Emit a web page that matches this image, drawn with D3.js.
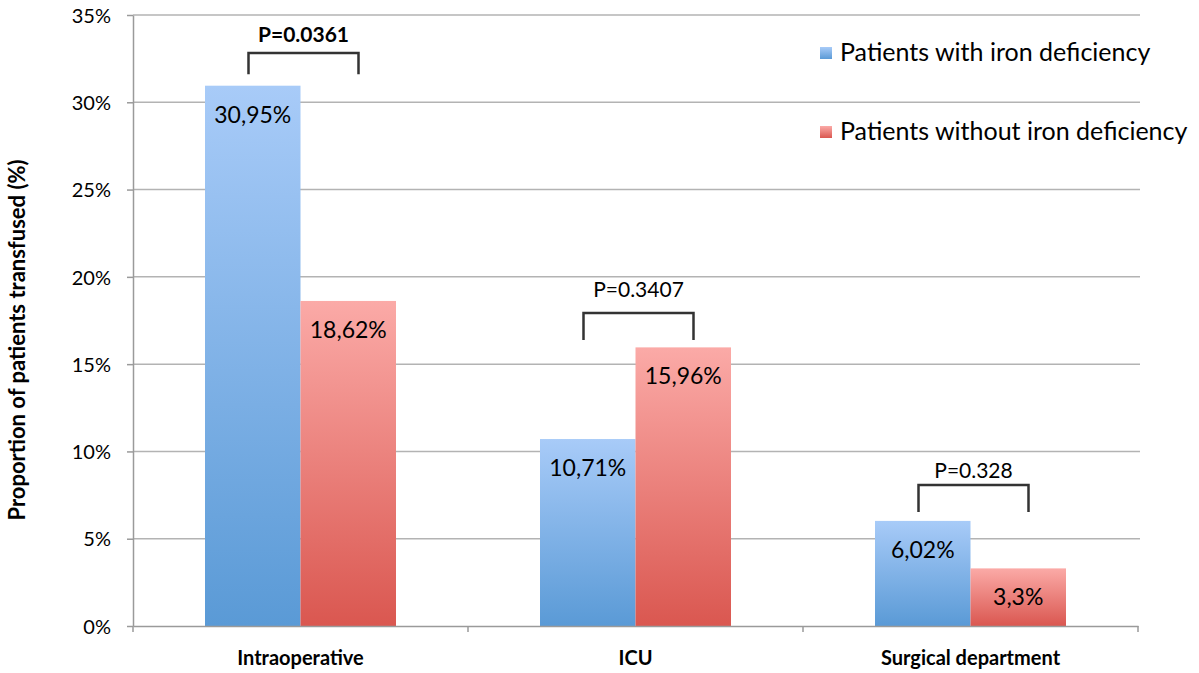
<html>
<head>
<meta charset="utf-8">
<script src="https://cdn.jsdelivr.net/npm/d3@7"></script>
<style>
    body { margin: 0; background: #fff; }
    text { font-family: Lato, "Open Sans", sans-serif; fill: #000; }
    .grid line { stroke: #b3b3b3; stroke-width: 1.5px; }
    .axis path, .axis line { stroke: #9a9a9a; stroke-width: 1.5px; }
</style>
</head>
<body>
<script>

    // data
    var categories = ["Intraoperative", "ICU", "Surgical department"];
    var series = ["Patients with iron deficiency", "Patients without iron deficiency"];
    var withIron = [30.95, 10.71, 6.02];
    var withoutIron = [18.62, 15.96, 3.3];
    var valueLabels = [["30,95%", "18,62%"], ["10,71%", "15,96%"], ["6,02%", "3,3%"]];
    var pValues = ["P=0.0361", "P=0.3407", "P=0.328"];
    var pBold = [true, false, false];
    var pLabelAt = [33.45, 18.84, 8.48];
    var bracketTop = [32.82, 17.93, 8.08];
    var bracketLeg = [31.6, 16.38, 6.53];
    var yTicks = [0, 5, 10, 15, 20, 25, 30, 35];

    var width = 1199, height = 673;
    var margin = {left: 133, right: 61, top: 15, bottom: 47};

    var svg = d3.select("body").append("svg")
        .attr("width", width)
        .attr("height", height);

    var defs = svg.append("defs");
    var grads = [["blueGrad", "#a8cbf8", "#5a9ad6"], ["redGrad", "#fbaaa7", "#da5750"]];
    grads.forEach(function (g) {
        var lg = defs.append("linearGradient").attr("id", g[0])
            .attr("x1", 0).attr("y1", 0).attr("x2", 0).attr("y2", 1);
        lg.append("stop").attr("offset", "0%").attr("stop-color", g[1]);
        lg.append("stop").attr("offset", "100%").attr("stop-color", g[2]);
    });

    var x = d3.scaleBand()
        .domain(categories)
        .range([margin.left, width - margin.right]);

    var inner = d3.scaleBand()
        .domain([0, 1])
        .range([0, x.bandwidth()])
        .paddingOuter(0.754);

    var y = d3.scaleLinear()
        .domain([0, 35])
        .range([height - margin.bottom, margin.top]);

    // gridlines
    svg.append("g").attr("class", "grid")
        .selectAll("line")
        .data(yTicks.slice(1))
        .enter().append("line")
        .attr("x1", margin.left).attr("x2", width - margin.right + 2)
        .attr("y1", function (d) { return y(d); })
        .attr("y2", function (d) { return y(d); });

    // y axis
    var yAxis = svg.append("g").attr("class", "axis")
        .attr("transform", "translate(" + margin.left + ",0)")
        .call(d3.axisLeft(y).tickValues(yTicks).tickSize(6).tickSizeOuter(0)
            .tickFormat(function (d) { return d + "%"; }));
    yAxis.selectAll("text").style("font-size", "20px").attr("x", -22).attr("dy", "0.36em");

    // bars
    var groups = svg.append("g")
        .selectAll("g")
        .data(categories)
        .enter().append("g")
        .attr("transform", function (d) { return "translate(" + x(d) + ",0)"; });

    var barData = function (d, i) {
        return [
            {k: 0, v: withIron[i], label: valueLabels[i][0]},
            {k: 1, v: withoutIron[i], label: valueLabels[i][1]}
        ];
    };

    groups.selectAll("rect")
        .data(barData)
        .enter().append("rect")
        .attr("x", function (d) { return inner(d.k); })
        .attr("width", inner.bandwidth())
        .attr("y", function (d) { return y(d.v); })
        .attr("height", function (d) { return y(0) - y(d.v); })
        .attr("fill", function (d) { return d.k === 0 ? "url(#blueGrad)" : "url(#redGrad)"; });

    groups.selectAll(".val")
        .data(barData)
        .enter().append("text")
        .attr("class", "val")
        .attr("x", function (d) { return inner(d.k) + inner.bandwidth() / 2; })
        .attr("y", function (d) { return y(d.v) + 37; })
        .attr("text-anchor", "middle")
        .style("font-size", "23px")
        .text(function (d) { return d.label; });

    // x axis
    var xAxis = svg.append("g").attr("class", "axis")
        .attr("transform", "translate(0," + y(0) + ")")
        .call(d3.axisBottom(x).tickSize(0).tickSizeOuter(0));
    xAxis.selectAll("text").style("font-size", "20px").style("font-weight", "bold")
        .attr("y", 39).attr("dy", 0);
    xAxis.selectAll(".sep")
        .data(x.range().concat(categories.slice(1).map(function (c) { return x(c); })))
        .enter().append("line")
        .attr("class", "sep")
        .attr("x1", function (d) { return d; }).attr("x2", function (d) { return d; })
        .attr("y1", 0).attr("y2", 6);

    // p-value brackets
    var half = x.bandwidth() / 2;
    var br = groups.append("g");
    br.append("path")
        .attr("d", function (d, i) {
            var x0 = half - 52, x1 = half + 58;
            return "M" + x0 + "," + y(bracketLeg[i]) + "V" + y(bracketTop[i]) +
                "H" + x1 + "V" + y(bracketLeg[i]);
        })
        .attr("fill", "none")
        .attr("stroke", "#333")
        .attr("stroke-width", 2.5);
    br.append("text")
        .attr("x", half + 3)
        .attr("y", function (d, i) { return y(pLabelAt[i]); })
        .attr("text-anchor", "middle")
        .style("font-size", "21px")
        .style("font-weight", function (d, i) { return pBold[i] ? "bold" : "normal"; })
        .text(function (d, i) { return pValues[i]; });

    // legend
    var legend = svg.append("g")
        .selectAll("g")
        .data(series)
        .enter().append("g")
        .attr("transform", function (d, i) { return "translate(820," + (47 + i * 79) + ")"; });
    legend.append("rect")
        .attr("width", 12).attr("height", 12)
        .attr("fill", function (d, i) { return i === 0 ? "url(#blueGrad)" : "url(#redGrad)"; });
    legend.append("text")
        .attr("x", 20).attr("y", 14)
        .style("font-size", "25px")
        .text(function (d) { return d; });

    // y title
    svg.append("text")
        .attr("transform", "translate(25,340) rotate(-90)")
        .attr("text-anchor", "middle")
        .style("font-size", "22px")
        .style("font-weight", "bold")
        .text("Proportion of patients transfused (%)");

</script>
</body>
</html>
